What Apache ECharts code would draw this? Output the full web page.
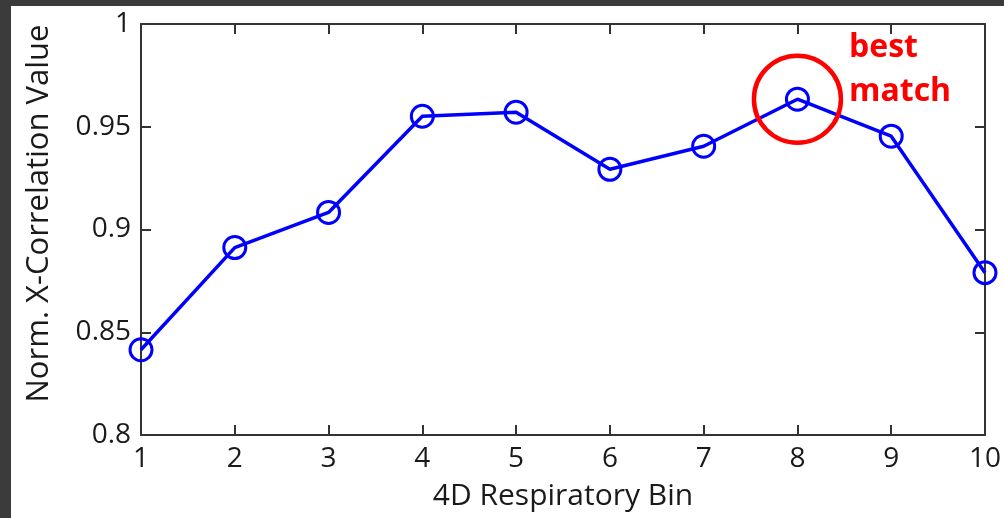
<!DOCTYPE html>
<html>
<head>
<meta charset="utf-8">
<script src="https://cdn.jsdelivr.net/npm/echarts@6/dist/echarts.min.js"></script>
<style>
  html, body { margin: 0; padding: 0; background: #3b3b3b; }
  #chart { position: absolute; left: 11px; top: 6px; width: 993px; height: 512px; background: #fff; }
</style>
</head>
<body>
<div id="chart"></div>
<script>
// bins along x, normalized cross-correlation values
var bins = [1, 2, 3, 4, 5, 6, 7, 8, 9, 10];
var corrValues = [0.8415, 0.8912, 0.9083, 0.9551, 0.9571, 0.9293, 0.9405, 0.9634, 0.9454, 0.879];
var bestBin = 8;

var chart = echarts.init(document.getElementById('chart'));

var font = '"Open Sans", "DejaVu Sans", sans-serif';
var axisColor = '#333';
var textColor = '#1a1a1a';

var points = bins.map(function (b, i) { return [b, corrValues[i]]; });

var option = {
    animation: false,
    grid: { left: 130, right: 19, top: 18, bottom: 83 },
    xAxis: [{
        type: 'value',
        min: 1, max: 10, interval: 1,
        name: '4D Respiratory Bin',
        nameLocation: 'middle',
        nameGap: 46,
        nameTextStyle: { fontFamily: font, fontSize: 30, color: textColor },
        axisLine: { lineStyle: { color: axisColor, width: 2 } },
        axisTick: { inside: true, length: 10, lineStyle: { color: axisColor, width: 2 } },
        axisLabel: { fontFamily: font, fontSize: 28, color: textColor, margin: 10 },
        splitLine: { show: false }
    }, {
        type: 'value', position: 'top',
        min: 1, max: 10, interval: 1,
        axisLine: { show: true, lineStyle: { color: axisColor, width: 2 } },
        axisTick: { inside: true, length: 10, lineStyle: { color: axisColor, width: 2 } },
        axisLabel: { show: false },
        splitLine: { show: false }
    }],
    yAxis: [{
        type: 'value',
        min: 0.8, max: 1, interval: 0.05,
        name: 'Norm. X-Correlation Value',
        nameLocation: 'middle',
        nameGap: 86,
        nameTextStyle: { fontFamily: font, fontSize: 31, color: textColor, padding: [0, 0, 0, 32] },
        axisLine: { show: true, lineStyle: { color: axisColor, width: 2 } },
        axisTick: { show: true, inside: true, length: 10, lineStyle: { color: axisColor, width: 2 } },
        axisLabel: {
            fontFamily: font, fontSize: 28, color: textColor, margin: 10,
            formatter: function (v) { return parseFloat(v.toFixed(2)).toString(); }
        },
        splitLine: { show: false }
    }, {
        type: 'value', position: 'right',
        min: 0.8, max: 1, interval: 0.05,
        axisLine: { show: true, lineStyle: { color: axisColor, width: 2 } },
        axisTick: { show: true, inside: true, length: 10, lineStyle: { color: axisColor, width: 2 } },
        axisLabel: { show: false },
        splitLine: { show: false }
    }],
    series: [{
        type: 'line',
        data: points,
        symbol: 'circle',
        symbolSize: 22,
        lineStyle: { color: '#0000ff', width: 3.5 },
        itemStyle: { color: 'rgba(0,0,0,0)', borderColor: '#0000ff', borderWidth: 3 },
        markPoint: {
            symbol: 'circle',
            symbolSize: 87,
            silent: true,
            itemStyle: { color: 'rgba(0,0,0,0)', borderColor: '#ff0000', borderWidth: 4.5 },
            label: { show: false },
            data: [{ coord: [bestBin, corrValues[bins.indexOf(bestBin)]] }]
        }
    }],
    graphic: [{
        type: 'text',
        left: 838, top: 20,
        style: {
            text: 'best\nmatch',
            fill: '#ff0000',
            font: 'bold 32px ' + font,
            lineHeight: 44
        }
    }]
};

chart.setOption(option);
</script>
</body>
</html>
